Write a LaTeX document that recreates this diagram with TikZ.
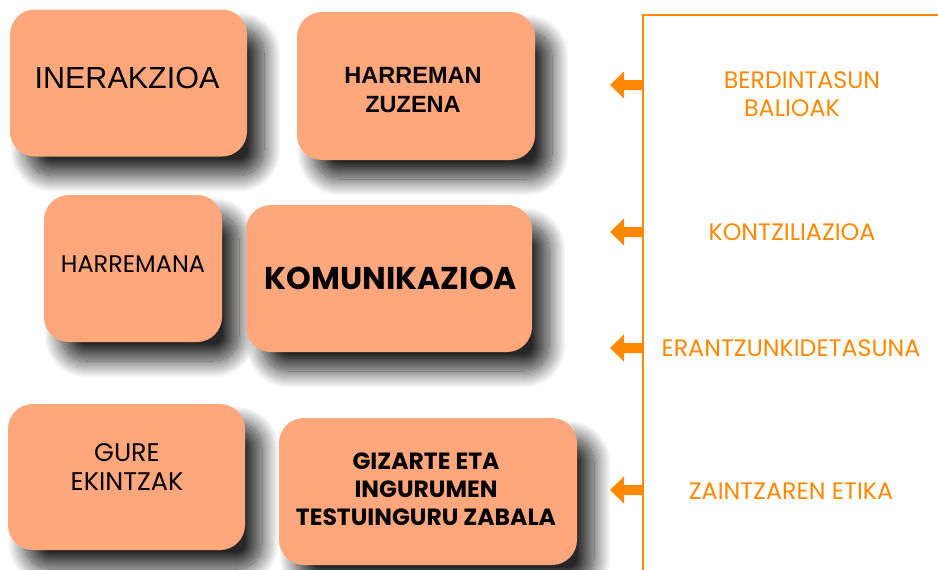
\documentclass[tikz,border=0pt]{standalone}
\usepackage{fontspec}
\setmainfont{Liberation Sans}
\newfontfamily\geo{Poppins}
\newfontfamily\arialf{Liberation Sans}
\usetikzlibrary{shadows.blur}
\definecolor{boxfill}{RGB}{255,167,124}
\definecolor{orng}{RGB}{255,136,0}
\tikzset{
  box/.style={rounded corners=25pt, fill=boxfill, draw=none, align=center, inner sep=0pt,
    blur shadow={shadow xshift=17pt, shadow yshift=-19pt, shadow blur radius=17pt, shadow blur steps=28, shadow opacity=85}},
  lbl/.style={text=orng, align=center, font=\geo\fontsize{23.8}{28}\selectfont},
  bracket/.style={draw=orng, line width=2.6pt},
  arrowfill/.style={fill=orng}
}
\begin{document}
\begin{tikzpicture}[x=1pt,y=-1pt]
\useasboundingbox (0,0) rectangle (938,570);
% boxes
\node[box, minimum width=237pt, minimum height=147pt] (b1) at (128.5,83) {};
\node[font=\arialf\fontsize{30.5}{36}\selectfont] (t1) at (127,78) {INERAKZIOA};
\node[box, minimum width=238pt, minimum height=148pt] (b2) at (416,86) {};
\node[font=\arialf\bfseries\fontsize{23.5}{29}\selectfont, align=center] (t2) at (413,90) {HARREMAN\\ZUZENA};
\node[box, minimum width=178pt, minimum height=147pt] (b3) at (133,268.5) {};
\node[font=\geo\fontsize{24}{28}\selectfont] (t3) at (133,264) {HARREMANA};
\node[box, minimum width=286pt, minimum height=147pt] (b4) at (389,278.5) {};
\node[font=\geo\bfseries\fontsize{31.5}{36}\selectfont] (t4) at (391,278) {KOMUNIKAZIOA};
\node[box, minimum width=237pt, minimum height=146pt] (b5) at (126.5,477) {};
\node[font=\geo\fontsize{25.5}{29}\selectfont, align=center] (t5) at (127,467) {GURE\\EKINTZAK};
\node[box, minimum width=298pt, minimum height=147pt] (b6) at (428,491.5) {};
\node[font=\geo\bfseries\fontsize{23.5}{28}\selectfont, align=center] (t6) at (426,489) {GIZARTE ETA\\INGURUMEN\\TESTUINGURU ZABALA};
% bracket
\coordinate (top) at (643,15);
\coordinate (topr) at (940,15);
\coordinate (bot) at (643,572);
\draw[bracket] (topr) -- (top) -- (bot);
% arrows
\foreach \n/\yy in {1/85,2/232,3/348,4/490}{
  \coordinate (v\n) at (643,\yy);
  \fill[arrowfill] (v\n) ++(0,-5) -- ++(-19,0) -- ++(0,-8.5) -- ++(-14,13.5) -- ++(14,13.5) -- ++(0,-8.5) -- ++(19,0) -- cycle;
}
% labels
\node[lbl] (l1) at (797,94) {\hspace*{10pt}BERDINTASUN\\BALIOAK\hspace*{10pt}};
\node[lbl] (l2) at (792,232) {KONTZILIAZIOA};
\node[lbl] (l3) at (791,348) {ERANTZUNKIDETASUNA};
\node[lbl] (l4) at (791,491) {ZAINTZAREN ETIKA};
\end{tikzpicture}
\end{document}
